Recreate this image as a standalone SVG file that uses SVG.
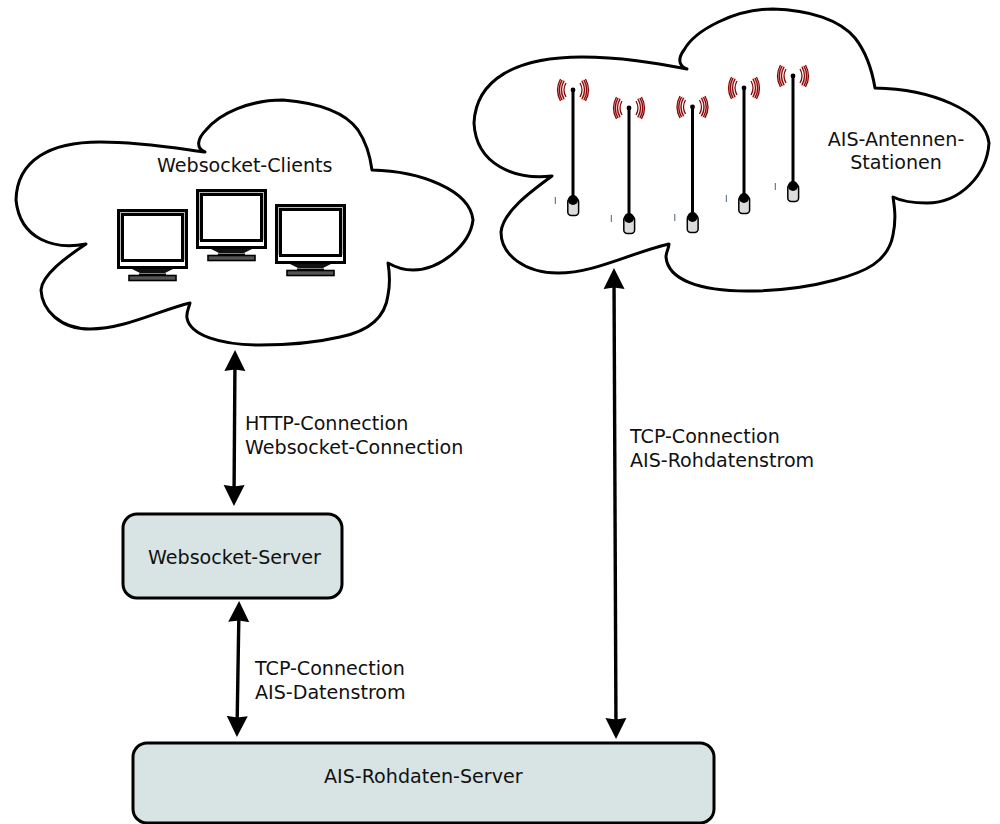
<svg xmlns="http://www.w3.org/2000/svg" width="1000" height="824" viewBox="0 0 1000 824">
<style>
.cloud{fill:#fff;stroke:#000;stroke-width:3;stroke-linejoin:round}
.box{fill:#d7e4e3;stroke:#000;stroke-width:3}
.conn{fill:none;stroke:#000;stroke-width:3.4;marker-start:url(#head);marker-end:url(#head)}
text{font-family:"DejaVu Sans",sans-serif;font-size:19.1px;fill:#111}
.halo{fill:none;stroke:#f0c4c4;stroke-width:3}
.wave{fill:none;stroke:#860808;stroke-width:1.3}
</style>
<defs>
<marker id="head" markerUnits="userSpaceOnUse" markerWidth="24" markerHeight="24" refX="15" refY="11" orient="auto-start-reverse" viewBox="0 0 24 22"><path d="M0,0.5 L21,11 L0,21.5 L1.500,11 Z" fill="#000"/></marker>
<g id="antenna">
<path class="halo" d="M-9,-10 Q-16,0 -9,10 M-11,-10 Q-18,0 -11,10 M9,-10 Q16,0 9,10 M11,-10 Q18,0 11,10"/>
<g class="wave">
<path d="M-7,-7 Q-11,0 -7,7"/><path d="M-9,-9 Q-14,0 -9,9"/><path d="M-11,-10 Q-16.500,0 -11,10"/><path d="M-12.500,-11 Q-18.500,0 -12.500,11"/>
<path d="M7,-7 Q11,0 7,7"/><path d="M9,-9 Q14,0 9,9"/><path d="M11,-10 Q16.500,0 11,10"/><path d="M12.500,-11 Q18.500,0 12.500,11"/>
</g>
<path d="M0,0 V108" stroke="#000" stroke-width="3"/>
<circle r="2.4" fill="#000"/>
<rect x="-5.2" y="108" width="10.8" height="17.5" rx="3.5" fill="#dcdcdc" stroke="#000" stroke-width="1.5"/>
<circle cy="110" r="5" fill="#000"/>
<path d="M-17.7,107 V114" stroke="#1c3a5c" stroke-width="0.8"/>
</g>
<g id="monitor">
<path d="M13,59 L23,64 H48 L58,59 Z" fill="#111"/>
<path d="M22,66 H49" stroke="#000" stroke-width="3"/>
<rect x="12" y="66.500" width="47" height="5" fill="#555" stroke="#000" stroke-width="1.600"/>
<rect x="1.500" y="1.500" width="68" height="57" fill="#fff" stroke="#000" stroke-width="3"/>
<rect x="3.400" y="3.400" width="64.200" height="47" fill="none" stroke="#aaa" stroke-width="0.800"/>
<rect x="5.500" y="5.500" width="60" height="46" fill="#fff" stroke="#000" stroke-width="3"/>
</g>
</defs>
<g id="clients-cloud">
<path class="cloud" d="M205,152 C195,148 198,138 206,130 C220,113 250,100 283,100 C320,103 345,112 358,130 C366,142 370,155 372,170 C420,171 470,190 473,220 C470,245 440,270 413,270 C403,270 395,267 388,263 C390,275 390,285 388,295 C385,320 365,332 340,337 C310,344 285,345 260,345 C220,345 190,335 187,318 C186,312 189,308 190,303 C160,310 125,329 90,329 C60,329 42,310 41,290 C42,275 65,258 86,244 C55,250 20,240 16,200 C17,160 50,142 100,142 C140,142 175,148 205,152 Z"/>
<text x="157" y="172">Websocket-Clients</text>
<use href="#monitor" x="117" y="209"/>
<use href="#monitor" x="196" y="189"/>
<use href="#monitor" x="275" y="204"/>
</g>
<g id="antennas-cloud">
<path class="cloud" d="M687,69 C678,66 678,58 684,50 C695,30 735,9 773,9 C810,10 840,20 855,38 C866,52 872,70 875,88 C930,89 985,110 989,143 C987,175 960,203 927,203 C915,203 903,202 893,197 C895,210 896,220 893,235 C888,262 865,272 835,280 C805,288 775,291 747,291 C700,291 668,280 666,257 C666,252 669,248 669,244 C630,253 595,273 558,273 C525,273 501,255 501,232 C503,212 530,192 552,176 C515,180 476,165 474,123 C476,80 515,57 582,57 C620,57 655,63 687,69 Z"/>
<use href="#antenna" x="573" y="90"/>
<use href="#antenna" x="629" y="108"/>
<use href="#antenna" x="692.500" y="107"/>
<use href="#antenna" x="744" y="88"/>
<use href="#antenna" x="793" y="76"/>
<text x="896" y="146" text-anchor="middle">AIS-Antennen-</text>
<text x="896" y="169" text-anchor="middle">Stationen</text>
</g>
<g id="websocket-server">
<rect class="box" x="123" y="514" width="219" height="84" rx="14"/>
<text x="148" y="564">Websocket-Server</text>
</g>
<g id="rohdaten-server">
<rect class="box" x="133" y="743" width="581" height="80" rx="14"/>
<text x="324" y="783">AIS-Rohdaten-Server</text>
</g>
<g id="connectors">
<path class="conn" d="M235,356 L234,500"/>
<path class="conn" d="M239,607 L237,731"/>
<path class="conn" d="M614,274 L616,733"/>
</g>
<g id="labels">
<text x="245" y="430">HTTP-Connection</text>
<text x="245" y="454">Websocket-Connection</text>
<text x="255" y="675">TCP-Connection</text>
<text x="255" y="699">AIS-Datenstrom</text>
<text x="630" y="443">TCP-Connection</text>
<text x="630" y="467">AIS-Rohdatenstrom</text>
</g>
</svg>
